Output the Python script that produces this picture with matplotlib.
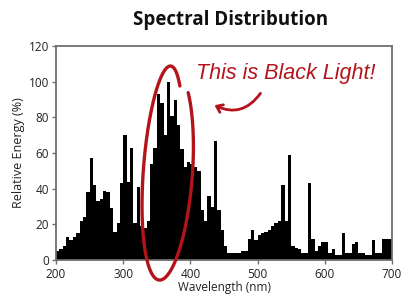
import numpy as np
import matplotlib
matplotlib.use("Agg")
import matplotlib.pyplot as plt
from matplotlib import font_manager
from matplotlib.patches import FancyArrowPatch

# 5 nm bins from 200 to 700 nm
bin_start = np.arange(200, 700, 5)
energy = [
    5, 6, 8, 13, 11, 13, 15, 22, 24, 38,
    57, 42, 33, 34, 39, 38, 29, 16, 21, 43,
    70, 44, 63, 21, 41, 19, 18, 22, 54, 63,
    93, 88, 70, 100, 81, 90, 76, 62, 52, 55,
    54, 52, 50, 28, 22, 36, 30, 67, 28, 17,
    8, 4, 4, 4, 4, 5, 5, 12, 17, 11,
    14, 15, 16, 17, 19, 21, 22, 42, 22, 59,
    8, 7, 6, 4, 4, 43, 12, 5, 8, 10,
    10, 4, 6, 3, 3, 15, 4, 4, 9, 10,
    4, 4, 3, 3, 11, 4, 4, 12, 12, 12,
]
xticks = [200, 300, 400, 500, 600, 700]
yticks = [0, 20, 40, 60, 80, 100, 120]

red = "#b3141c"
grey = "#6e6e6e"

installed = {f.name for f in font_manager.fontManager.ttflist}
narrow = "Liberation Sans Narrow" if "Liberation Sans Narrow" in installed else "Open Sans"
tick_size = 9.5 if narrow == "Liberation Sans Narrow" else 8.5

fig = plt.figure(figsize=(4.01, 3.01), dpi=100)
ax = fig.add_axes([0.1397, 0.136, 0.838, 0.711])

ax.bar(bin_start, energy, width=5, align="edge", color="black", linewidth=0)
ax.set_xlim(200, 700)
ax.set_ylim(0, 120)
ax.set_xticks(xticks)
ax.set_yticks(yticks)

for s in ax.spines.values():
    s.set_color(grey)
    s.set_linewidth(1.3)
ax.tick_params(axis="both", colors=grey, length=3, width=1, labelsize=tick_size,
               labelcolor="#222222")
ax.tick_params(axis="y", pad=2)
ax.tick_params(axis="x", pad=3)
for lab in ax.get_xticklabels() + ax.get_yticklabels():
    lab.set_family(narrow)

ax.set_xlabel("Wavelength (nm)", fontsize=tick_size, family=narrow, color="#222222", labelpad=0)
ax.set_ylabel("Relative Energy (%)", fontsize=tick_size + 0.5, family=narrow, color="#222222", labelpad=3)
fig.text(0.574, 0.935, "Spectral Distribution", ha="center", va="center",
         fontsize=13.5, fontweight="bold", family="Open Sans", color="#111111")

# hand drawn loop around the black light peak (pixel space -> data)
def px_to_data(px, py):
    return 200 + (px - 56) / 0.672, (260 - py) / 1.783

phi = np.linspace(-0.95, -0.95 - 2 * np.pi + 0.1, 300)
a = np.linspace(18, 29, phi.size)
cx, cy, b = 165, 173, 107
py = cy + b * np.sin(phi)
px = cx + a * np.cos(phi) + 0.05 * (cy - py)
lx, ly = px_to_data(px, py)
ax.plot(lx, ly, color=red, lw=2.4, clip_on=False, solid_capstyle="round", zorder=5)

# arrow and note
x0, y0 = px_to_data(262, 91)
x1, y1 = px_to_data(212, 104)
ax.add_patch(FancyArrowPatch((x0, y0), (x1, y1), connectionstyle="arc3,rad=-0.45",
                             arrowstyle="->,head_length=4,head_width=3",
                             color=red, lw=2, zorder=5))
tx, ty = px_to_data(286, 73)
ax.text(tx, ty, "This is Black Light!", color=red, fontsize=15.5, style="italic",
        family="Liberation Sans", ha="center", va="center", zorder=6)

fig.savefig("out.png", dpi=100)
